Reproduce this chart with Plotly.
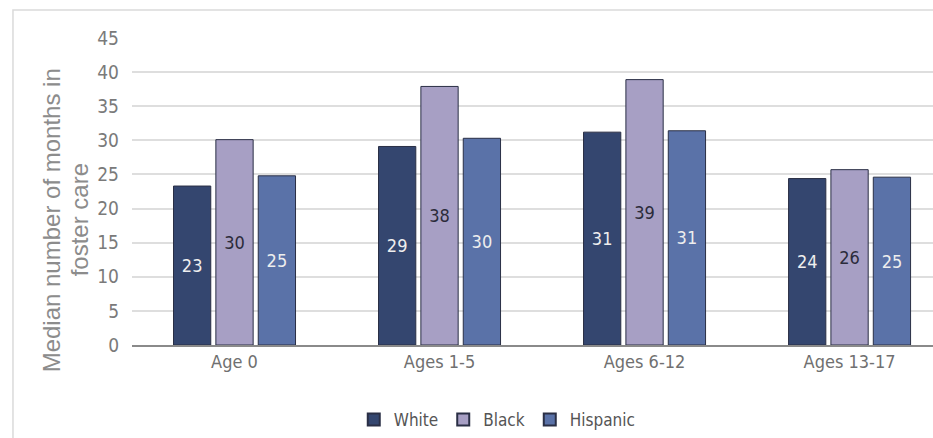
import plotly.graph_objects as go

categories = ["Age 0", "Ages 1-5", "Ages 6-12", "Ages 13-17"]
white = [23.3, 29.1, 31.2, 24.4]
black = [30.1, 37.9, 38.9, 25.7]
hispanic = [24.8, 30.3, 31.4, 24.6]
series_names = ["White", "Black", "Hispanic"]
y_ticks = [0, 5, 10, 15, 20, 25, 30, 35, 40, 45]
title_lines = ["Median number of months in", "foster care"]

FONT = "DejaVu Sans Condensed, Liberation Sans Narrow, Arial Narrow, sans-serif"
colors = ["#34466f", "#a79fc4", "#5a72a8"]
label_colors = ["#eeeeee", "#2b2b3a", "#eeeeee"]

fig = go.Figure()
for name, vals, c, lc in zip(series_names, [white, black, hispanic], colors, label_colors):
    fig.add_trace(go.Bar(
        x=categories, y=vals, name=name,
        marker=dict(color=c, line=dict(color="#2a2f45", width=1)),
        text=[f"{round(v):d}" for v in vals],
        textposition="inside", insidetextanchor="middle",
        textfont=dict(family=FONT, size=18, color=lc),
        insidetextfont=dict(family=FONT, size=18, color=lc),
        textangle=0,
    ))

fig.update_layout(
    width=933, height=438,
    margin=dict(l=132, r=0, t=38, b=92),
    paper_bgcolor="white", plot_bgcolor="white",
    barmode="group", bargap=0.38, bargroupgap=0.12,
    font=dict(family=FONT, color="#6b6b6b"),
    showlegend=True,
    legend=dict(orientation="h", x=0.456, xanchor="center", y=-0.245, yanchor="middle",
                font=dict(family=FONT, size=17, color="#555555"),
                itemwidth=30, tracegroupgap=0, itemsizing="constant"),
)
fig.update_xaxes(
    range=[-0.5, 3.407], showgrid=False, showline=True, linecolor="#8a8a8a", linewidth=1.5,
    ticks="", tickfont=dict(family=FONT, size=18, color="#707070"),
)
fig.update_yaxes(
    range=[0, 45], tickvals=y_ticks, showgrid=True, gridcolor="#dedede", gridwidth=1.5,
    zeroline=False, showline=False, ticks="", ticklabelstandoff=12,
    tickfont=dict(family=FONT, size=19, color="#7a7a7a"),
)
for line, shift in zip(title_lines, [-81, -53]):
    fig.add_annotation(
        text=line, textangle=-90,
        xref="paper", yref="paper", x=0, y=0.406, xanchor="center", yanchor="middle",
        xshift=shift, showarrow=False,
        font=dict(family="Liberation Sans, Arial, sans-serif", size=24, color="#8c8c8c"),
    )
fig.add_shape(type="rect", xref="paper", yref="paper",
              x0=-0.1486, x1=1.02, y0=-0.35, y1=1.091,
              line=dict(color="#dadada", width=1.5), layer="below")

fig.write_html("out.html")
